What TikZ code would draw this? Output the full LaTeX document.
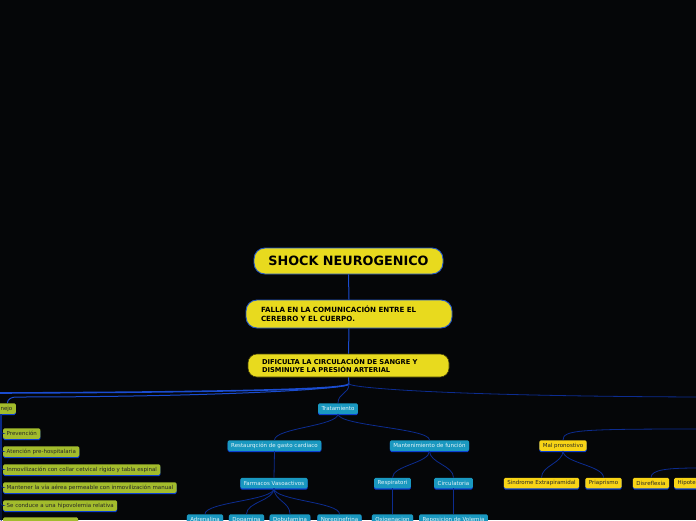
\documentclass[tikz,border=0pt]{standalone}
\usepackage{fontspec}
\setmainfont{DejaVu Sans}
\usetikzlibrary{shadows}
\definecolor{bgdark}{HTML}{050608}
\definecolor{ymain}{HTML}{E8DA1E}
\definecolor{ygold}{HTML}{F8D416}
\definecolor{olive}{HTML}{A3BC2C}
\definecolor{teal}{HTML}{1A98C0}
\definecolor{bord}{HTML}{2458CC}
\definecolor{uline}{HTML}{0C3FD2}
\definecolor{linkc}{HTML}{0C2C90}
\definecolor{trunkc}{HTML}{1A4CD0}
\begin{document}
\begin{tikzpicture}[x=1pt,y=-1pt,
        big/.style={draw=bord,fill=ymain,rounded corners=11pt,line width=0.9pt,
            font=\bfseries\fontsize{7.1}{9.2}\selectfont,align=left},
        item/.style={rounded corners=1.5pt,minimum height=10.5pt,inner xsep=3.5pt,
            inner ysep=0pt,font=\fontsize{5.5}{6}\selectfont,
            drop shadow={shadow xshift=0pt,shadow yshift=-1.4pt,fill=uline,opacity=1}},
        tt/.style={item,fill=teal,text=white!88!teal},
        ol/.style={item,fill=olive,text=black!85},
        yg/.style={item,fill=ygold,text=black!85},
        link/.style={draw=linkc,line width=0.8pt},
        trunk/.style={draw=trunkc,line width=1pt}]
    \clip (0,0) rectangle (696,520);
    \fill[bgdark] (0,0) rectangle (696,520);

    \node[big,minimum width=189pt,minimum height=26pt,align=center,
        font=\bfseries\fontsize{12.8}{14}\selectfont] (root) at (348.5,261) {SHOCK NEUROGENICO};
    \node[big,text width=176pt,inner xsep=15pt,minimum height=28pt] (falla) at (349,314)
        {FALLA EN LA COMUNICACIÓN ENTRE EL\\CEREBRO Y EL CUERPO.};
    \node[big,draw=black!70!ymain,line width=0.6pt,rounded corners=9pt,text width=173pt,
        inner xsep=14pt,minimum height=23pt,font=\bfseries\fontsize{6.7}{8.6}\selectfont]
        (dif) at (348.5,365.5)
        {DIFICULTA LA CIRCULACIÓN DE SANGRE Y\\DISMINUYE LA PRESIÓN ARTERIAL};
    \coordinate (tr) at (349,384);
    \coordinate (offL) at (-2,393);
    \coordinate (offR) at (698,397);
    \coordinate (offM) at (698,429);
    \coordinate (offD) at (698,468);
    \coordinate (mjb) at (1,414);

    % manejo
    \node[ol,anchor=east] (man) at (16,408.5) {Manejo};
    \node[ol,anchor=west] (prev) at (3,433.5) {Prevención};
    \node[ol,anchor=west] (aten) at (3,451.5) {Atención pre-hospitalaria};
    \node[ol,anchor=west] (inmo) at (3,469.5) {Inmovilización con collar cetvical rígido y tabla espinal};
    \node[ol,anchor=west] (vias) at (3,487.5) {Mantener la vía aérea permeable con inmovilización manual};
    \node[ol,anchor=west] (hipv) at (3,505.5) {Se conduce a una hipovolemia relativa};
    \node[ol,anchor=west,minimum width=75pt] (ult) at (3,522.5) {};

    % tratamiento
    \node[tt] (trat) at (338,408.5) {Tratamiento};
    \node[tt] (rest) at (274.5,445.5) {Restaurqción de gasto cardiaco};
    \node[tt] (mant) at (429.5,445.5) {Mantenimiento de función};
    \node[tt] (farm) at (274,483) {Farmacos Vasoactivos};
    \node[tt] (resp) at (392.5,483) {Respiratori};
    \node[tt] (circ) at (453.5,483) {Circulatoria};
    \node[tt] (adre) at (205,519.5) {Adrenalina};
    \node[tt] (dopa) at (246.5,519.5) {Dopamina};
    \node[tt] (dobu) at (290,519.5) {Dobutamina};
    \node[tt] (nore) at (339.5,519.5) {Norepinefrina};
    \node[tt] (oxig) at (392.5,519.5) {Oxigenacion};
    \node[tt] (repo) at (453.5,519.5) {Reposicion de Volemia};

    % pronostico
    \node[yg] (malp) at (563,445.5) {Mal pronostivo};
    \node[yg] (sind) at (541.5,483) {Sindrome Extrapiramidal};
    \node[yg] (pria) at (603.5,483) {Priaprismo};
    \node[yg] (disr) at (651,483) {Disreflexia};
    \node[yg,anchor=west] (hipo) at (674,483) {Hipotermia};

    \draw[trunk] (root.south) -- (falla.north);
    \draw[trunk] (falla.south) -- (dif.north);
    \draw[trunk] (dif.south) -- (tr);
    \draw[trunk,line width=1.6pt] (tr) .. controls +(-4,5) and +(250,-1) .. (offL);
    \draw[trunk] (tr) .. controls +(-4,6) and +(180,0) .. (16,397)
        to[out=180,in=90] ([xshift=5pt]man.north);
    \draw[link] (tr) .. controls +(4,4) and +(-250,-1) .. (offR);
    \draw[link] (tr) .. controls +(0,10) and +(0,-10) .. (trat.north);

    \foreach \i in {prev,aten,inmo,vias,hipv,ult}
        \draw[link,rounded corners=2.5pt] (mjb) |- (\i.west);

    \foreach \i in {rest,mant}
        \draw[link] (trat.south) .. controls +(0,12) and +(0,-12) .. (\i.north);
    \draw[link] (rest.south) -- (farm.north);
    \foreach \i in {adre,dopa,dobu,nore}
        \draw[link] (farm.south) .. controls +(0,12) and +(0,-12) .. (\i.north);
    \foreach \i in {resp,circ}
        \draw[link] (mant.south) .. controls +(0,12) and +(0,-12) .. (\i.north);
    \draw[link] (resp.south) -- (oxig.north);
    \draw[link] (circ.south) -- (repo.north);

    \draw[link] (offM) .. controls +(-120,0) and +(0,-10) .. (malp.north);
    \foreach \i in {sind,pria}
        \draw[link] (malp.south) .. controls +(0,12) and +(0,-12) .. (\i.north);
    \draw[link] (offD) .. controls +(-30,0) and +(0,-8) .. (disr.north);
\end{tikzpicture}
\end{document}
